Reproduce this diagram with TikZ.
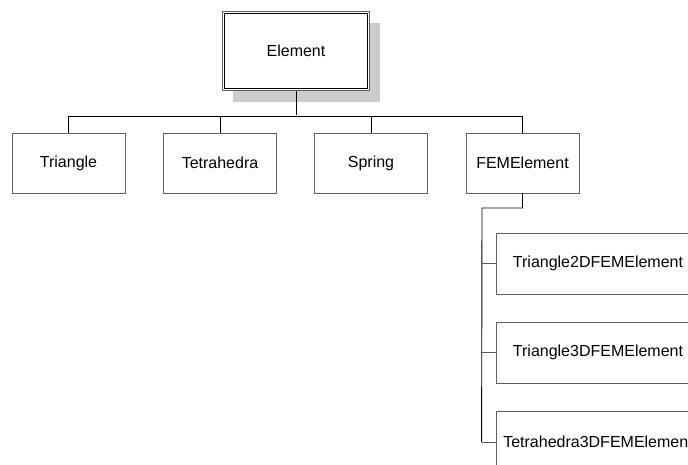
\documentclass[tikz,border=0pt]{standalone}
\usepackage{fontspec}
\setmainfont{Liberation Sans}
\usepackage{tikz}
\usetikzlibrary{positioning,calc,shadows}

\tikzset{
  box/.style={draw=gray!75!black,fill=white,line width=0.8pt,minimum width=113pt,minimum height=60pt,inner sep=0pt,font=\fontsize{16}{19}\selectfont},
  subbox/.style={box,minimum width=204pt,minimum height=61pt},
  link/.style={line width=0.9pt,black},
  tick/.style={line width=0.9pt,gray!70!black}
}

\begin{document}
\begin{tikzpicture}[x=1pt,y=-1pt]
\clip (0,0) rectangle (688,465);
\fill[white] (0,0) rectangle (688,465);
% top class
\node[box,minimum width=147pt,minimum height=79pt,drop shadow={shadow xshift=10pt,shadow yshift=-12pt,fill=gray!40,opacity=1}] (elem) at (296,51) {Element};
\draw[black,line width=0.8pt] ([shift={(2.6pt,-2.6pt)}]elem.north west) rectangle ([shift={(-2.6pt,2.6pt)}]elem.south east);
% first level
\node[box] (tri) at (68.5,163) {Triangle};
\node[box] (tet) at (220,163) {Tetrahedra};
\node[box] (spr) at (371,163) {Spring};
\node[box] (fem) at (522.5,163) {FEMElement};
\draw[link] (elem.south) -- ++(0,24);
\draw[link] (tri.north) -- ++(0,-16) -| (fem.north);
\draw[link] (tet.north) -- ++(0,-16);
\draw[link] (spr.north) -- ++(0,-16);
% FEM children
\node[subbox] (tri2d) at (598,263.5) {Triangle2DFEMElement};
\node[subbox] (tri3d) at (598,352.5) {Triangle3DFEMElement};
\node[subbox] (tet3d) at (598,442) {Tetrahedra3DFEMElement};
\coordinate (trunk) at (482,208);
\draw[link] (fem.south) |- (trunk) -- ($(tet3d.west)+(-14,0)$);
\draw[tick] (tri2d.west) -- ++(-14,0);
\draw[tick] (tri3d.west) -- ++(-14,0);
\draw[tick] (tet3d.west) -- ++(-14,0);
\end{tikzpicture}
\end{document}
